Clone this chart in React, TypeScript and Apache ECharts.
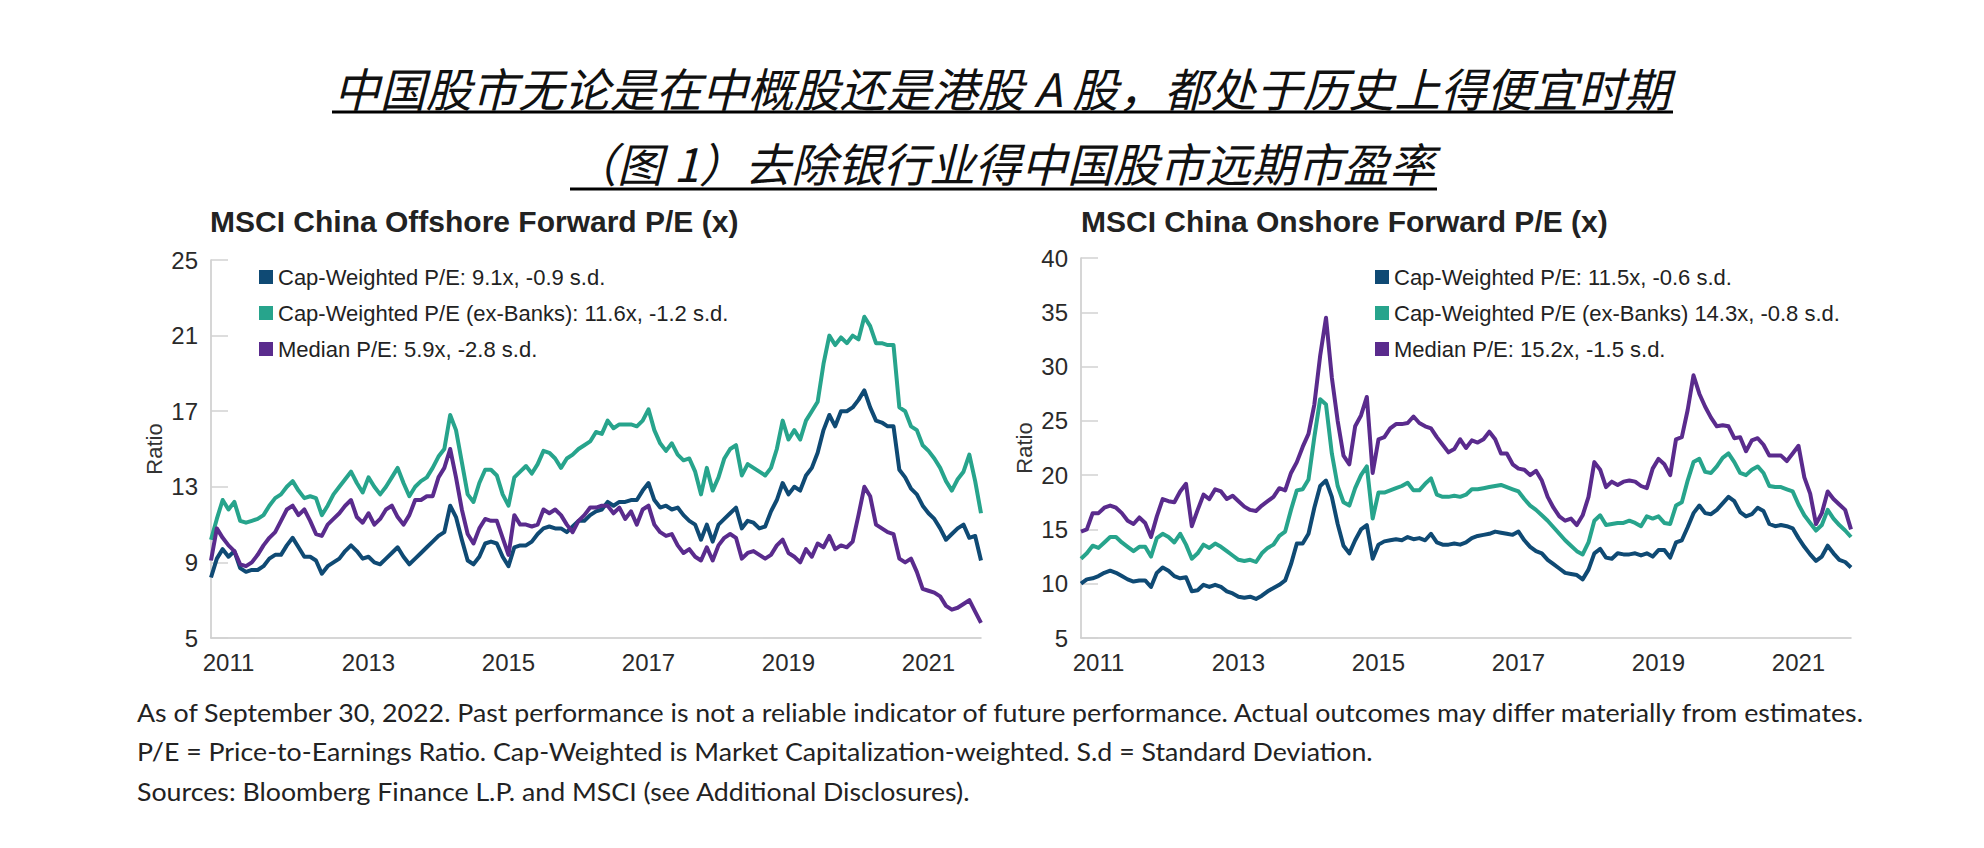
import React, { useEffect, useRef } from "react";
import * as echarts from "echarts";

// Monthly categories, Oct 2010 .. Oct 2021
const months: string[] = [];
for (let k = 0; k < 133; k++) {
  const m = 9 + k; // month index from Jan 2010
  const y = 2010 + Math.floor(m / 12);
  const mm = (m % 12) + 1;
  months.push(`${y}-${mm < 10 ? "0" + mm : mm}`);
}

const offshoreCap = [
  8.2, 9.2, 9.7, 9.3, 9.6, 8.7, 8.5, 8.6, 8.6, 8.8, 9.2, 9.4, 9.4, 9.9, 10.3, 9.8, 9.3, 9.3, 9.1, 8.4,
  8.8, 9.0, 9.2, 9.6, 9.9, 9.6, 9.2, 9.3, 9.0, 8.9, 9.2, 9.5, 9.8, 9.3, 8.9, 9.2, 9.5, 9.8, 10.1, 10.4,
  10.6, 12.0, 11.4, 10.2, 9.1, 8.9, 9.3, 10.0, 10.1, 10.0, 9.3, 8.8, 9.8, 9.9, 9.9, 10.1, 10.5, 10.8, 10.9, 10.8,
  10.8, 10.6, 10.9, 11.2, 11.2, 11.5, 11.7, 11.8, 12.2, 12.0, 12.2, 12.2, 12.3, 12.3, 12.8, 13.2, 12.3, 11.9, 12.0, 11.8,
  11.9, 11.5, 11.2, 11.0, 10.2, 11.0, 10.1, 11.0, 11.3, 11.6, 11.9, 10.8, 11.2, 11.1, 10.8, 10.9, 11.7, 12.3, 13.2, 12.6,
  13.0, 12.8, 13.6, 14.0, 14.8, 16.0, 16.8, 16.2, 17.0, 17.0, 17.2, 17.6, 18.1, 17.2, 16.5, 16.4, 16.2, 16.2, 13.9, 13.5,
  12.9, 12.6, 12.0, 11.6, 11.3, 10.8, 10.2, 10.5, 10.8, 11.0, 10.3, 10.4, 9.1,
];
const offshoreExBanks = [
  10.2, 11.3, 12.3, 11.8, 12.2, 11.2, 11.1, 11.2, 11.3, 11.5, 12.0, 12.4, 12.6, 13.0, 13.3, 12.8, 12.4, 12.5, 12.4, 11.5,
  12.0, 12.6, 13.0, 13.4, 13.8, 13.2, 12.7, 13.5, 13.0, 12.6, 13.0, 13.5, 14.0, 13.2, 12.5, 13.0, 13.3, 13.5, 14.0, 14.6,
  15.0, 16.8, 16.0, 14.3, 12.6, 12.2, 13.2, 13.9, 13.9, 13.6, 12.6, 12.0, 13.5, 13.8, 14.1, 13.7, 14.2, 14.9, 14.8, 14.5,
  14.0, 14.5, 14.7, 15.0, 15.2, 15.4, 15.9, 15.8, 16.5, 16.1, 16.3, 16.3, 16.3, 16.2, 16.5, 17.1, 16.0, 15.3, 14.9, 15.3,
  14.7, 14.4, 14.5, 13.8, 12.6, 14.0, 12.8, 13.5, 14.5, 15.0, 15.2, 13.6, 14.2, 14.0, 13.8, 13.6, 14.0, 15.0, 16.5, 15.5,
  16.0, 15.5, 16.5, 17.0, 17.5, 19.5, 21.0, 20.5, 20.9, 20.6, 21.0, 20.8, 22.0, 21.5, 20.6, 20.6, 20.5, 20.5, 17.2, 17.0,
  16.2, 16.0, 15.2, 14.9, 14.5, 14.0, 13.3, 12.8, 13.4, 13.8, 14.7, 13.3, 11.6,
];
const offshoreMedian = [
  9.1, 10.8, 10.3, 9.9, 9.6, 8.9, 8.8, 9.0, 9.4, 9.9, 10.3, 10.6, 11.2, 11.8, 12.0, 11.5, 11.8, 11.2, 10.5, 10.4,
  11.0, 11.3, 11.6, 12.0, 12.3, 11.4, 11.1, 11.6, 11.0, 11.3, 11.8, 12.0, 11.4, 11.0, 11.5, 12.3, 12.3, 12.5, 12.5, 13.5,
  14.0, 15.0, 13.5, 11.8, 10.5, 10.0, 10.8, 11.3, 11.2, 11.2, 10.3, 9.4, 11.5, 11.0, 11.0, 10.9, 11.0, 11.8, 11.6, 11.8,
  11.5, 11.0, 10.6, 11.2, 11.5, 11.9, 11.9, 12.0, 12.0, 11.6, 11.9, 11.3, 11.7, 11.0, 11.8, 12.0, 11.0, 10.6, 10.4, 10.5,
  9.9, 9.5, 9.7, 9.3, 9.1, 9.8, 9.1, 9.9, 10.3, 10.5, 10.3, 9.2, 9.5, 9.6, 9.4, 9.2, 9.4, 9.9, 10.2, 9.5,
  9.3, 9.0, 9.7, 9.3, 10.0, 9.8, 10.4, 9.7, 9.9, 9.8, 10.1, 11.5, 13.0, 12.5, 11.0, 10.8, 10.6, 10.5, 9.2, 9.0,
  9.2, 8.5, 7.6, 7.5, 7.4, 7.2, 6.7, 6.5, 6.6, 6.8, 7.0, 6.4, 5.8,
];

const onshoreCap = [
  10.0, 10.4, 10.5, 10.7, 11.0, 11.2, 11.0, 10.7, 10.4, 10.2, 10.3, 10.3, 9.7, 11.0, 11.5, 11.2, 10.7, 10.5, 10.6, 9.3,
  9.4, 9.9, 9.7, 9.9, 9.7, 9.3, 9.1, 8.8, 8.7, 8.8, 8.6, 8.9, 9.3, 9.6, 9.9, 10.3, 11.8, 13.7, 13.7, 14.6,
  17.0, 19.0, 19.5, 18.0, 15.5, 13.5, 12.8, 14.0, 15.0, 15.4, 12.3, 13.6, 13.9, 14.0, 14.1, 14.0, 14.3, 14.1, 14.2, 14.0,
  14.6, 13.8, 13.6, 13.6, 13.7, 13.6, 13.8, 14.2, 14.4, 14.5, 14.6, 14.8, 14.7, 14.6, 14.5, 14.8, 14.0, 13.4, 13.0, 12.8,
  12.2, 11.8, 11.4, 11.0, 10.9, 10.8, 10.4, 11.3, 12.8, 13.2, 12.4, 12.3, 12.8, 12.7, 12.7, 12.8, 12.6, 12.8, 12.5, 13.1,
  13.1, 12.4, 13.8, 14.0, 15.2, 16.5, 17.2, 16.5, 16.4, 16.8, 17.4, 18.0, 17.6, 16.6, 16.2, 16.4, 17.0, 16.7, 15.5, 15.3,
  15.4, 15.3, 15.1, 14.2, 13.4, 12.7, 12.1, 12.5, 13.5, 12.8, 12.2, 12.0, 11.5,
];
const onshoreExBanks = [
  12.3, 12.8, 13.5, 13.3, 13.8, 14.3, 14.3, 13.8, 13.4, 13.0, 13.4, 13.4, 12.5, 14.2, 14.6, 14.3, 13.8, 14.6, 13.6, 12.3,
  12.8, 13.6, 13.3, 13.7, 13.4, 13.0, 12.6, 12.2, 12.1, 12.2, 12.0, 12.8, 13.3, 13.6, 14.4, 14.8, 16.8, 18.6, 18.7, 19.6,
  23.5, 27.0, 26.5, 22.0, 19.0, 17.5, 17.2, 18.8, 20.0, 20.8, 16.0, 18.4, 18.4, 18.6, 18.8, 19.0, 19.3, 18.6, 18.6, 19.2,
  19.7, 18.2, 18.0, 18.0, 18.1, 18.0, 18.2, 18.7, 18.7, 18.8, 18.9, 19.0, 19.1, 18.9, 18.7, 18.5, 17.8, 17.2, 16.8, 16.3,
  15.8, 15.2, 14.6, 14.0, 13.5, 13.0, 12.7, 13.8, 15.8, 16.3, 15.4, 15.5, 15.6, 15.6, 15.8, 15.6, 15.3, 16.2, 16.0, 16.2,
  15.6, 15.5, 17.2, 17.5, 19.5, 21.2, 21.5, 20.3, 20.2, 20.8, 21.6, 22.0, 21.2, 20.2, 20.0, 20.5, 20.8, 20.2, 19.0, 18.9,
  18.9, 18.7, 18.5, 17.3, 16.3, 15.6, 14.9, 15.4, 16.8, 16.0, 15.4, 14.9, 14.3,
];
const onshoreMedian = [
  14.8, 15.0, 16.5, 16.5, 17.0, 17.2, 17.0, 16.5, 15.8, 15.5, 16.1, 15.6, 14.3, 16.2, 17.8, 17.6, 17.5, 18.5, 19.2, 15.3,
  16.8, 18.2, 17.8, 18.7, 18.5, 17.8, 18.1, 17.6, 17.1, 16.8, 16.7, 17.2, 17.6, 18.0, 18.8, 18.6, 20.2, 21.2, 22.6, 23.8,
  26.5, 31.0, 34.5, 29.0, 25.0, 21.8, 21.0, 24.5, 25.5, 27.2, 20.2, 23.3, 23.5, 24.3, 24.7, 24.7, 24.8, 25.4, 24.8, 24.5,
  24.3, 23.5, 22.8, 22.1, 22.4, 23.3, 22.5, 23.2, 23.0, 23.3, 24.0, 23.3, 22.0, 22.0, 21.0, 20.6, 20.5, 20.0, 20.4, 19.5,
  18.0, 17.0, 16.2, 15.8, 16.0, 15.4, 16.3, 18.0, 21.2, 20.5, 18.9, 19.4, 19.1, 19.4, 19.5, 19.4, 19.0, 18.8, 20.6, 21.5,
  21.0, 20.0, 23.3, 23.5, 26.0, 29.2, 27.5, 26.3, 25.3, 24.5, 24.6, 24.5, 23.4, 23.5, 22.2, 23.2, 23.4, 22.8, 21.8, 21.8,
  21.8, 21.3, 22.0, 22.7, 19.8, 18.3, 15.5, 16.5, 18.5, 17.8, 17.3, 16.8, 15.0,
];

const offshoreNames = [
  "Cap-Weighted P/E: 9.1x, -0.9 s.d.",
  "Cap-Weighted P/E (ex-Banks): 11.6x, -1.2 s.d.",
  "Median P/E: 5.9x, -2.8 s.d.",
];
const onshoreNames = [
  "Cap-Weighted P/E: 11.5x, -0.6 s.d.",
  "Cap-Weighted P/E (ex-Banks) 14.3x, -0.8 s.d.",
  "Median P/E: 15.2x, -1.5 s.d.",
];
const chartTitles = ["MSCI China Offshore Forward P/E (x)", "MSCI China Onshore Forward P/E (x)"];
const headline = [
  "中国股市无论是在中概股还是港股 A 股，都处于历史上得便宜时期",
  "（图 1）去除银行业得中国股市远期市盈率",
];
const footnotes = [
  "As of September 30, 2022. Past performance is not a reliable indicator of future performance. Actual outcomes may differ materially from estimates.",
  "P/E = Price-to-Earnings Ratio. Cap-Weighted is Market Capitalization-weighted. S.d = Standard Deviation.",
  "Sources: Bloomberg Finance L.P. and MSCI (see Additional Disclosures).",
];

const NAVY = "#0f4a74";
const TEAL = "#27a48c";
const PURPLE = "#5a2b8d";
const SANS = "'Liberation Sans', Arial, sans-serif";
const NARROW = "'Liberation Sans Narrow', 'Arial Narrow', 'Liberation Sans', sans-serif";

function makeX(gridIndex: number) {
  return {
    type: "category",
    gridIndex,
    data: months,
    boundaryGap: false,
    axisLine: { lineStyle: { color: "#c8c8c8", width: 1.5 } },
    axisTick: { show: false },
    axisLabel: {
      interval: (_i: number, v: string) => v.endsWith("-01") && parseInt(v.slice(0, 4)) % 2 === 1,
      formatter: (v: string) => v.slice(0, 4),
      fontSize: 24,
      fontFamily: NARROW,
      color: "#2a2a2a",
      margin: 12,
    },
    splitLine: { show: false },
  };
}

function makeY(gridIndex: number, max: number, interval: number) {
  return {
    type: "value",
    gridIndex,
    min: 5,
    max,
    interval,
    name: "Ratio",
    nameLocation: "middle",
    nameGap: 46,
    nameRotate: 90,
    nameTextStyle: { fontSize: 22, fontFamily: SANS, color: "#333" },
    axisLine: { show: true, lineStyle: { color: "#c8c8c8", width: 1.5 } },
    axisTick: { show: true, inside: true, length: 17, lineStyle: { color: "#d2d2d2", width: 1.5 } },
    splitLine: { show: false },
    axisLabel: { fontSize: 24, fontFamily: NARROW, color: "#2a2a2a", margin: 13 },
  };
}

function line(name: string, data: number[], color: string, idx: number) {
  return {
    type: "line",
    name,
    data,
    xAxisIndex: idx,
    yAxisIndex: idx,
    symbol: "none",
    color,
    lineStyle: { width: 4, color, join: "round" },
  };
}

function legend(names: string[], left: number) {
  return {
    orient: "vertical",
    left,
    top: 266,
    padding: 0,
    itemWidth: 14,
    itemHeight: 14,
    itemGap: 14,
    icon: "rect",
    data: names,
    textStyle: { fontSize: 22, lineHeight: 22, fontFamily: NARROW, color: "#222", padding: [0, 0, 0, 0] },
  };
}

export default function App() {
  const ref = useRef<HTMLDivElement>(null);
  useEffect(() => {
    if (!ref.current) return;
    const chart = echarts.init(ref.current, undefined, { renderer: "svg" });
    const titleStyle = { fontSize: 30, fontWeight: "bold", fontFamily: NARROW, color: "#222" };
    const option: any = {
      animation: false,
      backgroundColor: "#ffffff",
      title: [
        { text: chartTitles[0], left: 210, top: 206, padding: 0, textStyle: titleStyle },
        { text: chartTitles[1], left: 1081, top: 206, padding: 0, textStyle: titleStyle },
      ],
      legend: [legend(offshoreNames, 259), legend(onshoreNames, 1375)],
      grid: [
        { left: 211, top: 260, width: 770, height: 378 },
        { left: 1081, top: 258, width: 770, height: 380 },
      ],
      xAxis: [makeX(0), makeX(1)],
      yAxis: [makeY(0, 25, 4), makeY(1, 40, 5)],
      series: [
        line(offshoreNames[0], offshoreCap, NAVY, 0),
        line(offshoreNames[1], offshoreExBanks, TEAL, 0),
        line(offshoreNames[2], offshoreMedian, PURPLE, 0),
        line(onshoreNames[0], onshoreCap, NAVY, 1),
        line(onshoreNames[1], onshoreExBanks, TEAL, 1),
        line(onshoreNames[2], onshoreMedian, PURPLE, 1),
      ],
      graphic: [
        {
          type: "text",
          style: {
            text: headline[0],
            x: 1002,
            y: 87,
            align: "center",
            verticalAlign: "middle",
            fontSize: 46,
            fontStyle: "italic",
            fontFamily: "'Noto Sans CJK SC', sans-serif",
            fill: "#111",
          },
        },
        {
          type: "text",
          style: {
            text: headline[1],
            x: 1003,
            y: 162,
            align: "center",
            verticalAlign: "middle",
            fontSize: 46,
            fontStyle: "italic",
            fontFamily: "'Noto Sans CJK SC', sans-serif",
            fill: "#111",
          },
        },
        { type: "line", shape: { x1: 332, y1: 112, x2: 1673, y2: 112 }, style: { stroke: "#000", lineWidth: 3 } },
        { type: "line", shape: { x1: 570, y1: 189, x2: 1437, y2: 189 }, style: { stroke: "#000", lineWidth: 3 } },
        ...footnotes.map((t, k) => ({
          type: "text",
          x: 137,
          y: 712 + k * 39.5,
          scaleX: 1.07,
          style: {
            text: t,
            x: 0,
            y: 0,
            align: "left",
            verticalAlign: "middle",
            fontSize: 25,
            fontFamily: "Lato, 'Open Sans', sans-serif",
            fill: "#222",
          },
        })),
      ],
    };
    chart.setOption(option);
    return () => chart.dispose();
  }, []);
  return <div ref={ref} style={{ position: "absolute", left: 0, top: 0, width: 1984, height: 848 }} />;
}
